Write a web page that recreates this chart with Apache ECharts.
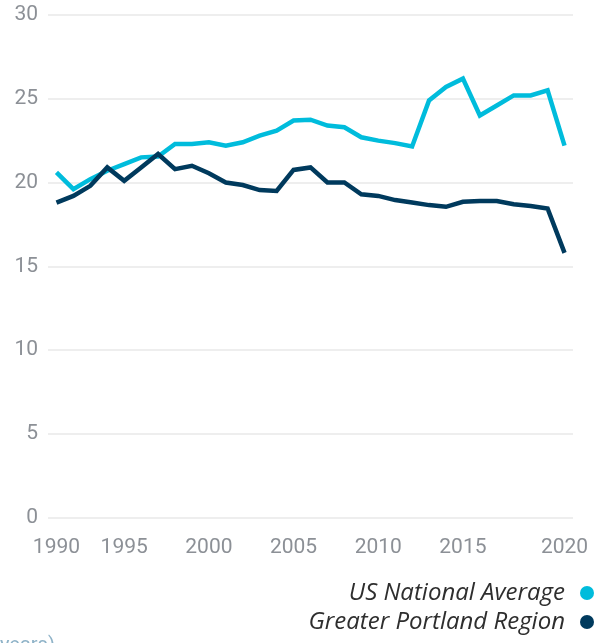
<!DOCTYPE html>
<html>
<head>
<meta charset="utf-8">
<script src="https://cdn.jsdelivr.net/npm/echarts@6/dist/echarts.min.js"></script>
<style>
  html, body { margin: 0; padding: 0; background: #fff; }
  #chart { width: 611px; height: 643px; }
</style>
</head>
<body>
<div id="chart"></div>
<script>
// years on the category axis, one point per year
const years = [];
for (let y = 1990; y <= 2020; y++) years.push(String(y));

// tick labels and the category index each one sits on
const tickLabels = ['1990', '1995', '2000', '2005', '2010', '2015', '2020'];
const tickIndex = [0, 4, 9, 14, 19, 24, 30];

const usAverage = [
  20.6, 19.6, 20.2, 20.7, 21.1, 21.5, 21.55, 22.3, 22.3, 22.4,
  22.2, 22.4, 22.8, 23.1, 23.7, 23.75, 23.4, 23.3, 22.7, 22.5,
  22.35, 22.15, 24.9, 25.7, 26.2, 24.0, 24.6, 25.2, 25.2, 25.5,
  22.2
];
const portland = [
  18.8, 19.2, 19.8, 20.9, 20.1, 20.9, 21.7, 20.8, 21.0, 20.55,
  20.0, 19.85, 19.55, 19.5, 20.75, 20.9, 20.0, 20.0, 19.3, 19.2,
  18.95, 18.8, 18.65, 18.55, 18.85, 18.9, 18.9, 18.7, 18.6, 18.45,
  15.8
];

const seriesNames = ['US National Average', 'Greater Portland Region'];
const colors = { us: '#00bcdc', pdx: '#003a5d' };

const chart = echarts.init(document.getElementById('chart'), null, { renderer: 'canvas' });

chart.setOption({
  animation: false,
  grid: { left: 48, right: 38, top: 15, bottom: 125.5, containLabel: false },
  xAxis: {
    type: 'category',
    data: years,
    boundaryGap: true,
    axisLine: { show: false },
    axisTick: { show: false },
    axisLabel: {
      interval: (index) => tickIndex.includes(index),
      formatter: (value, index) => tickLabels[tickIndex.indexOf(index)] || '',
      color: '#8c9096',
      fontFamily: 'Roboto',
      fontSize: 21,
      margin: 20
    }
  },
  yAxis: {
    type: 'value',
    min: 0,
    max: 30,
    interval: 5,
    axisLine: { show: false },
    axisTick: { show: false },
    axisLabel: {
      color: '#8c9096',
      fontFamily: 'Roboto',
      fontSize: 21,
      margin: 10
    },
    splitLine: { lineStyle: { color: '#e8e8e8', width: 1.5 } }
  },
  legend: {
    data: seriesNames,
    orient: 'vertical',
    align: 'right',
    right: 17,
    top: 580,
    padding: 0,
    itemWidth: 14,
    itemHeight: 14,
    itemGap: 3,
    icon: 'circle',
    textStyle: {
      color: '#2e2e2e',
      fontFamily: 'Open Sans',
      fontStyle: 'italic',
      fontSize: 24,
      lineHeight: 26,
      padding: [0, 10, 0, 0]
    }
  },
  graphic: [{
    type: 'text',
    left: 0,
    top: 636,
    style: {
      text: 'years)',
      fill: '#8fb3c8',
      font: '20px Roboto'
    }
  }],
  series: [
    {
      name: seriesNames[0],
      type: 'line',
      data: usAverage,
      showSymbol: false,
      itemStyle: { color: colors.us },
      lineStyle: { color: colors.us, width: 4.5, join: 'miter' }
    },
    {
      name: seriesNames[1],
      type: 'line',
      data: portland,
      showSymbol: false,
      itemStyle: { color: colors.pdx },
      lineStyle: { color: colors.pdx, width: 4.5, join: 'miter' }
    }
  ]
});
</script>
</body>
</html>
